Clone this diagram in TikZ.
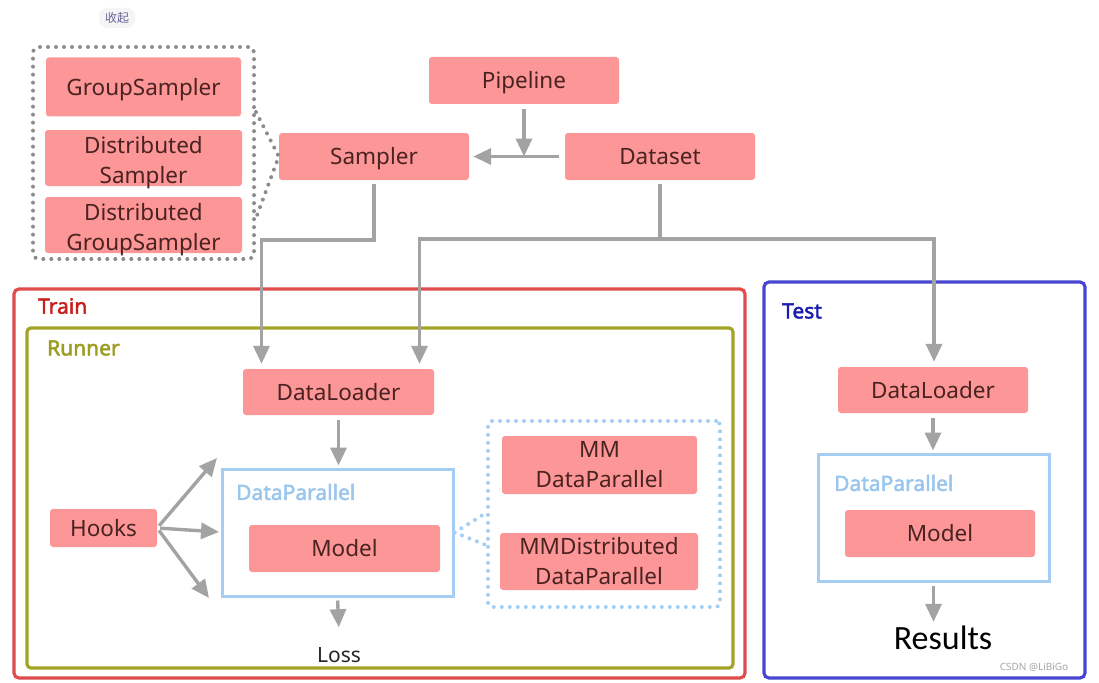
\documentclass[tikz,border=0pt]{standalone}
\usepackage{fontspec}
\setmainfont{Noto Sans}
\newfontfamily\lblfont{Noto Sans}[FakeBold=2.2]
\newfontfamily\cjk{Noto Sans CJK SC}
\newfontfamily\carl{Carlito}
\usetikzlibrary{arrows.meta}
\definecolor{nodefill}{HTML}{FD9696}
\definecolor{nodetext}{HTML}{4A2222}
\definecolor{arrgray}{HTML}{A3A3A3}
\definecolor{dotgray}{HTML}{8C8C8C}
\definecolor{trainred}{HTML}{E04B4B}
\definecolor{traintext}{HTML}{C81E1E}
\definecolor{runnerol}{HTML}{A3A326}
\definecolor{runnertext}{HTML}{9C9C22}
\definecolor{dpblue}{HTML}{A6CEF2}
\definecolor{dptext}{HTML}{9AC6EE}
\definecolor{testblue}{HTML}{4646D2}
\definecolor{testtext}{HTML}{1C1CB0}
\tikzset{
  x=1pt, y=-1pt,
  blk/.style={fill=nodefill, rounded corners=3pt, text=nodetext, align=center, inner sep=0pt,
    font=\fontsize{22.5}{30}\selectfont, text height=22pt, text depth=5.6pt},
  blkm/.style={fill=nodefill, rounded corners=3pt, text=nodetext, align=center, inner sep=0pt,
    font=\fontsize{22.5}{30}\selectfont},
  arr/.style={draw=arrgray, line width=3.4pt, -{Triangle[width=16pt,length=18pt]}},
  dotg/.style={draw=dotgray, line width=4pt, line cap=round, dash pattern=on 0pt off 8pt},
  dotb/.style={draw=dpblue, line width=4pt, line cap=round, dash pattern=on 0pt off 8pt},
  frame/.style={rounded corners=5pt, line width=3.2pt, inner sep=0pt},
  grplabel/.style={anchor=west, font=\lblfont\fontsize{21}{24}\selectfont, inner sep=0pt}
}
\begin{document}
\begin{tikzpicture}
\useasboundingbox[fill=white] (0,0) rectangle (1099,682);
% header
\node[fill=gray!8, rounded corners=8pt, text=gray!80!blue, font=\cjk\fontsize{12}{14}\selectfont, minimum width=36pt, minimum height=20pt, inner sep=0pt] (hdr) at (117,18) {收起};
% frames
\node[frame, draw=trainred, minimum width=731pt, minimum height=389pt] (train) at (379.5,483.5) {};
\node[grplabel, text=traintext] (trainlbl) at (38,306) {Train};
\node[frame, draw=runnerol, minimum width=706pt, minimum height=340pt, rounded corners=4pt] (runner) at (380,498) {};
\node[grplabel, text=runnertext] (runnerlbl) at (47,348) {Runner};
\node[frame, draw=testblue, minimum width=321pt, minimum height=396pt] (test) at (924.5,480) {};
\node[grplabel, text=testtext] (testlbl) at (782,311) {Test};
% sampler group
\node[dotg, rounded corners=6pt, minimum width=221pt, minimum height=212pt] (grp) at (143.5,153) {};
\node[blk, minimum width=195pt, minimum height=59pt] (gs) at (143.5,87) {GroupSampler};
\node[blkm, text height=53.5pt, text depth=2pt, minimum width=197pt, minimum height=56pt] (ds) at (143.5,158) {Distributed\\Sampler};
\node[blkm, text height=53.5pt, text depth=2pt, minimum width=197pt, minimum height=56pt] (dgs) at (143.5,225) {Distributed\\GroupSampler};
% top row
\node[blk, minimum width=190pt, minimum height=47pt] (pipe) at (524,80.5) {Pipeline};
\node[blk, minimum width=190pt, minimum height=47pt] (sampler) at (374,156.5) {Sampler};
\node[blk, minimum width=190pt, minimum height=47pt] (dataset) at (660,156.5) {Dataset};
% train content
\node[blk, minimum width=191pt, minimum height=46pt] (dl) at (338.5,392) {DataLoader};
\node[draw=dpblue, line width=3pt, minimum width=231pt, minimum height=127pt, inner sep=0pt] (dp) at (337.5,532.5) {};
\node[grplabel, text=dptext] (dplbl) at (236,492) {DataParallel};
\node[blk, minimum width=191pt, minimum height=47pt] (model) at (344.5,548.5) {Model};
\node[blk, minimum width=107pt, minimum height=38pt] (hooks) at (103.5,528) {Hooks};
\node[text=black!85, font=\fontsize{21}{24}\selectfont, inner sep=0pt] (loss) at (339,655) {Loss};
\node[dotb, rounded corners=4pt, minimum width=232pt, minimum height=186pt] (mmbox) at (604,514) {};
\node[blkm, minimum width=195pt, minimum height=58pt] (mmdp) at (599.5,465) {MM\\DataParallel};
\node[blkm, minimum width=198pt, minimum height=57pt] (mmddp) at (599,561.5) {MMDistributed\\DataParallel};
% test content
\node[blk, minimum width=190pt, minimum height=46pt] (tdl) at (933,390) {DataLoader};
\node[draw=dpblue, line width=3pt, minimum width=231pt, minimum height=127pt, inner sep=0pt] (tdp) at (933.5,517.5) {};
\node[grplabel, text=dptext] (tdplbl) at (834,483) {DataParallel};
\node[blk, minimum width=190pt, minimum height=47pt] (tmodel) at (940,533.5) {Model};
\node[font=\carl\fontsize{34}{36}\selectfont, inner sep=0pt] (results) at (943,638) {Results};
\node[text=gray!70, font=\fontsize{10}{12}\selectfont, inner sep=0pt] (wm) at (1034,667) {CSDN @LiBiGo};
% coordinates
\coordinate (j1) at (374,240);
\coordinate (j2) at (660,239);
\coordinate (h1) at (217,458);
\coordinate (h2) at (219,532);
\coordinate (h3) at (209,598);
% connectors top
\draw[arr, shorten <=6pt, shorten >=4pt] (dataset.west) -- (sampler.east);
\draw[arr, shorten <=5pt] (pipe.south) -- (pipe.south |- sampler.east);
\draw[arr, shorten <=4pt, shorten >=5pt] (sampler.south) -- (j1) -| ([xshift=-77pt]dl.north);
\draw[arr, shorten <=4pt, shorten >=5pt] (dataset.south) -- (j2) -| ([xshift=81pt]dl.north);
\draw[arr, shorten >=5pt] (j2) -| ([xshift=1pt]tdl.north);
% dotted links
\draw[dotg] ([yshift=41pt]grp.east) -- (sampler.west) -- ([yshift=-65pt]grp.east);
\draw[dotb] (dp.east) -- ([yshift=1pt]mmbox.west);
\draw[dotb] (dp.east) -- ([yshift=-31pt]mmbox.west);
% train arrows
\draw[arr, shorten <=5pt, shorten >=2pt] (dl.south) -- (dl.south |- dp.north);
\draw[arr, shorten <=3pt] (hooks.east) -- (h1);
\draw[arr, shorten <=3pt] (hooks.east) -- (h2);
\draw[arr, shorten <=3pt] (hooks.east) -- (h3);
\draw[arr, shorten <=3pt, shorten >=6pt] (dp.south) -- ([yshift=14pt]loss.north);
% test arrows
\draw[arr, shorten <=5pt, shorten >=2pt] (tdl.south) -- (tdl.south |- tdp.north);
\draw[arr, shorten <=3pt, shorten >=4pt] (tdp.south) -- (tdp.south |- results.north);
\end{tikzpicture}
\end{document}
